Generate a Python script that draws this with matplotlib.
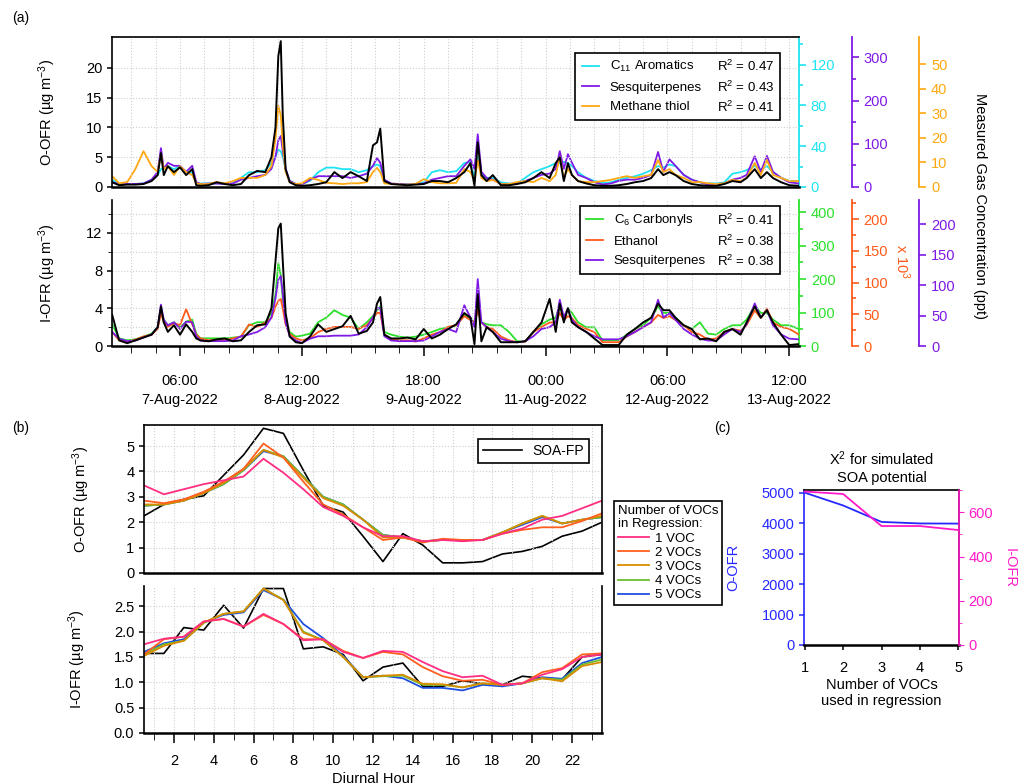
import numpy as np
import matplotlib
matplotlib.use('Agg')
from matplotlib import pyplot as plt
from matplotlib.lines import Line2D
from matplotlib.ticker import MultipleLocator, FixedLocator, FormatStrFormatter

plt.rcParams['font.family'] = ['Liberation Sans', 'DejaVu Sans']
plt.rcParams['mathtext.fontset'] = 'custom'
plt.rcParams['mathtext.rm'] = 'Liberation Sans'
plt.rcParams['mathtext.default'] = 'regular'
plt.rcParams['font.size'] = 10.5

#-------------------------------------------------------------------
# (a) time series, hours since 7-Aug-2022 00:00
hours = [-10.7, -9, -7, -5, -3, -1, 0.5, 1.3, 2, 3, 4.5, 6, 7.5, 9, 10, 11,
         13, 15, 17, 19, 21, 23, 25, 27, 28.5, 29.5, 30.2, 30.8, 31.3, 32, 33, 34.5,
         36, 38, 40, 42, 44, 46, 48, 50, 52, 53.5, 54.5, 55.3, 56.3,
         58, 60, 62, 64, 66, 68, 70, 72, 74, 76, 77.5, 78.5, 79.3, 80.2, 81.5, 83,
         85, 87, 89, 91, 93, 95, 97, 98.5, 99.5, 100.5, 101.5, 102.5,
         104, 106, 108, 110, 112, 114, 116, 118, 120, 122, 123.7, 125, 126.5, 128,
         130, 132, 134, 136, 138, 140, 142, 144, 145.5, 147.5, 149, 150.5,
         152, 154, 156, 158.4]

time_ticks = [6, 36, 66, 96, 126, 156]
time_labels = ['06:00\n7-Aug-2022', '12:00\n8-Aug-2022', '18:00\n9-Aug-2022',
               '00:00\n11-Aug-2022', '06:00\n12-Aug-2022', '12:00\n13-Aug-2022']

# O-OFR panel
soa_oofr = [0.8, 0.3, 0.4, 0.4, 0.5, 1, 2, 5.7, 2, 3.5, 2.5, 3.3, 2, 3, 0.3, 0.2,
            0.3, 0.8, 0.5, 0.3, 0.5, 2, 2.7, 2.5, 5, 10, 22, 24.5, 12, 3, 0.8, 0.3,
            0.2, 0.3, 0.5, 0.8, 2.5, 1.5, 2.5, 1.8, 1, 7, 7.5, 9.8, 1,
            0.5, 0.4, 0.3, 0.4, 0.5, 1, 1, 0.8, 1.5, 2.5, 4, 0.2, 7.5, 2, 1, 2,
            0.3, 0.3, 0.5, 0.8, 1.5, 2.5, 1.5, 4, 5, 1, 4, 2,
            1, 0.6, 0.3, 0.2, 0.2, 0.3, 0.5, 0.8, 1, 1.5, 3, 2, 2.5, 2,
            1, 0.5, 0.3, 0.2, 0.2, 0.5, 1, 0.8, 1.5, 3, 1.5, 2.5,
            1.5, 0.8, 0.3, 0.2]
c11_arom = [7, 3, 3, 3, 3.5, 7, 12, 17.5, 19, 20.5, 17.5, 20.5, 14.5, 14.5, 4.5, 3.5,
            3.5, 3.5, 3.5, 3.5, 9, 14.5, 14.5, 16.5, 23.5, 29.5, 36.5, 35, 29.5, 17.5, 6, 3,
            3, 6, 14.5, 19, 19, 17.5, 17.5, 14.5, 16.5, 20.5, 22, 20.5, 6,
            3, 3, 3, 3, 4.5, 14.5, 16.5, 14.5, 15.5, 23.5, 24.5, 9, 29.5, 12, 9, 9,
            4.5, 3.5, 3.5, 9, 14.5, 17.5, 20.5, 23.5, 23.5, 24.5, 23.5, 20.5,
            14.5, 9, 6, 4, 4.5, 7, 9, 10.5, 13, 16.5, 20.5, 19, 22, 20.5,
            12, 7, 4.5, 3.5, 3.5, 4.5, 13, 14.5, 16.5, 20.5, 17.5, 20.5,
            14.5, 9, 6, 6]
sesq_top = [11, 7, 7, 7, 8, 17, 35, 90, 42, 56, 49, 49, 35, 49, 11, 7,
            8, 8, 7, 8, 17, 21, 25, 28, 42, 70, 108, 118, 83, 42, 14, 7,
            6, 17, 25, 25, 25, 25, 21, 25, 31, 49, 67, 56, 17,
            8, 7, 6, 7, 8, 17, 21, 25, 25, 49, 64, 42, 122, 35, 21, 17,
            7, 7, 8, 14, 21, 28, 31, 42, 83, 42, 76, 56,
            28, 21, 11, 6, 8, 14, 17, 17, 21, 28, 81, 35, 64, 49,
            28, 17, 11, 6, 7, 8, 17, 21, 28, 71, 35, 72,
            35, 21, 11, 8]
methanethiol = [4.4, 1.5, 2.0, 7.3, 14.6, 8.5, 6.1, 13.4, 7.3, 8.5, 4.9, 8.5, 6.1, 4.9, 1.5, 1.2,
                1.2, 2.0, 1.5, 2.4, 3.7, 3.7, 3.7, 4.9, 8.5, 19.5, 33, 29.3, 17.1, 6.1, 2.0, 1.2,
                1.5, 3.7, 2.9, 1.7, 1.5, 1.2, 1.5, 1.5, 2.0, 6.1, 7.8, 6.1, 1.5,
                1.2, 1.0, 1.0, 1.2, 3.2, 2.0, 1.5, 1.5, 1.7, 7.3, 6.1, 2.4, 11, 3.7, 2.4, 2.9,
                1.2, 1.2, 2.0, 2.4, 2.0, 3.7, 2.4, 4.9, 12.2, 3.7, 7.3, 4.9,
                2.4, 2.0, 2.0, 2.4, 2.9, 3.7, 4.4, 3.7, 4.4, 4.9, 11, 6.1, 7.3, 4.9,
                3.7, 2.0, 2.0, 1.5, 1.2, 1.5, 2.9, 2.4, 3.7, 9.8, 4.9, 11,
                4.9, 3.7, 2.4, 2.4]

# I-OFR panel (ethanol in ppt x 10^3)
soa_iofr = [3.3, 0.6, 0.3, 0.6, 0.9, 1.2, 2, 4.2, 2.5, 1.5, 2.2, 1.2, 2.3, 1.5, 0.8, 0.6,
            0.5, 0.7, 0.8, 0.5, 0.6, 1.5, 2.2, 2.3, 4, 9, 12.5, 13, 9, 3.5, 1, 0.4,
            0.3, 1, 2.3, 1.5, 1.8, 2.1, 3.2, 1.3, 1.6, 2.5, 4.5, 5.2, 1.2,
            0.8, 0.8, 0.9, 0.7, 1.8, 0.8, 1.2, 1.8, 2.3, 3.5, 3, 0.2, 5.5, 0.5, 2, 1.5,
            0.4, 0.4, 0.4, 0.5, 1.5, 2.5, 5, 1.5, 4.5, 2.5, 4, 2.5,
            2, 1.5, 0.8, 0.1, 0.1, 0.1, 1.2, 1.8, 2.5, 3, 4.5, 3.8, 3.8, 3,
            2.2, 1.8, 0.7, 0.8, 0.5, 1.5, 1.8, 1.2, 2.5, 4.2, 3, 3.8,
            2.5, 1.2, 0.1, 0.2]
c6_carbonyls = [65, 23, 17, 20, 28, 37, 56, 107, 79, 62, 71, 56, 73, 79, 37, 23,
                23, 23, 23, 25, 28, 62, 71, 71, 99, 155, 248, 212, 141, 71, 42, 28,
                31, 37, 71, 85, 107, 93, 85, 51, 71, 90, 107, 118, 42,
                34, 28, 25, 28, 34, 42, 51, 56, 62, 93, 85, 71, 113, 71, 65, 62,
                62, 42, 14, 14, 42, 65, 79, 85, 121, 85, 113, 99,
                71, 56, 56, 17, 17, 17, 34, 51, 62, 85, 118, 99, 99, 85,
                62, 51, 71, 37, 34, 51, 62, 62, 79, 121, 99, 99,
                79, 62, 62, 51]
ethanol = [22, 9, 7, 10, 15, 18, 27, 52, 37, 30, 36, 33, 58, 34, 18, 12,
           9, 10, 9, 12, 15, 34, 30, 37, 44, 62, 71, 74, 59, 34, 19, 12,
           9, 12, 22, 27, 30, 30, 30, 27, 33, 44, 52, 52, 18,
           10, 9, 9, 7, 12, 18, 22, 30, 33, 47, 41, 37, 56, 37, 30, 27,
           15, 9, 6, 7, 22, 30, 37, 37, 52, 41, 47, 44,
           33, 27, 22, 6, 6, 6, 15, 22, 30, 37, 49, 44, 47, 41,
           33, 22, 18, 10, 12, 22, 27, 24, 33, 56, 44, 59,
           37, 30, 27, 18]
sesq_low = [23, 12, 8, 9, 14, 19, 31, 68, 43, 34, 39, 28, 40, 39, 16, 9,
            8, 8, 8, 9, 16, 19, 23, 31, 47, 78, 109, 115, 85, 39, 16, 9,
            5, 12, 16, 16, 17, 17, 17, 19, 31, 47, 62, 62, 16,
            9, 8, 8, 8, 9, 16, 23, 28, 23, 67, 47, 31, 110, 39, 31, 23,
            12, 8, 6, 8, 16, 28, 31, 39, 76, 47, 62, 43,
            31, 23, 16, 11, 11, 11, 16, 23, 31, 39, 76, 47, 54, 43,
            28, 19, 12, 9, 9, 19, 28, 23, 36, 70, 47, 59,
            34, 19, 12, 11]

#-------------------------------------------------------------------
# (b) diurnal profiles
diurnal_hour = np.arange(0.5, 24, 1.0)
n_voc_labels = ['1 VOC', '2 VOCs', '3 VOCs', '4 VOCs', '5 VOCs']

oofr_soa = [2.25, 2.7, 2.9, 3.04, 3.85, 4.65, 5.7, 5.5, 4.05, 2.65, 2.4, 1.45,
            0.45, 1.55, 1.1, 0.4, 0.4, 0.45, 0.75, 0.85, 1.05, 1.45, 1.65, 2.0]
oofr_voc = [
    [3.45, 3.1, 3.3, 3.5, 3.65, 3.8, 4.5, 3.95, 3.3, 2.6, 2.25, 1.8,
     1.45, 1.45, 1.25, 1.3, 1.25, 1.3, 1.55, 1.75, 2.1, 2.25, 2.55, 2.85],
    [2.85, 2.75, 2.9, 3.2, 3.6, 4.1, 5.1, 4.55, 3.6, 2.7, 2.3, 1.8,
     1.3, 1.4, 1.2, 1.35, 1.3, 1.3, 1.55, 1.7, 1.8, 1.8, 2.05, 2.35],
    [2.7, 2.7, 2.85, 3.15, 3.55, 4.1, 4.85, 4.55, 3.75, 2.95, 2.65, 2.1,
     1.4, 1.4, 1.25, 1.3, 1.3, 1.3, 1.6, 1.95, 2.25, 1.95, 2.1, 2.25],
    [2.65, 2.7, 2.85, 3.15, 3.5, 4.05, 4.85, 4.6, 3.8, 3.0, 2.7, 2.1,
     1.5, 1.4, 1.25, 1.3, 1.3, 1.3, 1.6, 1.95, 2.25, 1.95, 2.1, 2.2],
    [2.65, 2.7, 2.85, 3.15, 3.5, 4.05, 4.8, 4.6, 3.8, 3.0, 2.7, 2.1,
     1.5, 1.4, 1.25, 1.3, 1.3, 1.3, 1.6, 1.9, 2.2, 1.95, 2.1, 2.2],
]
iofr_soa = [1.57, 1.57, 2.08, 2.03, 2.52, 2.07, 2.85, 2.85, 1.66, 1.7, 1.55, 1.03,
            1.3, 1.38, 0.92, 0.92, 1.03, 0.97, 0.95, 1.12, 1.08, 1.06, 1.5, 1.55]
iofr_voc = [
    [1.75, 1.86, 1.9, 2.2, 2.25, 2.1, 2.35, 2.15, 1.83, 1.85, 1.6, 1.48,
     1.62, 1.6, 1.4, 1.22, 1.1, 1.13, 0.95, 0.98, 1.15, 1.26, 1.5, 1.55],
    [1.55, 1.85, 1.9, 2.2, 2.25, 2.1, 2.33, 2.15, 1.85, 1.85, 1.62, 1.48,
     1.6, 1.55, 1.3, 1.12, 1.03, 1.05, 0.95, 0.98, 1.2, 1.28, 1.55, 1.57],
    [1.52, 1.72, 1.82, 2.18, 2.35, 2.4, 2.85, 2.62, 1.98, 1.83, 1.5, 1.1,
     1.13, 1.15, 0.97, 0.96, 0.9, 0.98, 0.95, 0.98, 1.08, 1.02, 1.32, 1.4],
    [1.55, 1.75, 1.82, 2.17, 2.35, 2.4, 2.85, 2.63, 2.0, 1.83, 1.5, 1.1,
     1.12, 1.13, 0.95, 0.95, 0.9, 0.98, 0.95, 0.98, 1.08, 1.05, 1.35, 1.45],
    [1.6, 1.77, 1.85, 2.18, 2.33, 2.38, 2.82, 2.63, 2.15, 1.87, 1.52, 1.1,
     1.13, 1.08, 0.89, 0.89, 0.84, 0.95, 0.92, 0.98, 1.1, 1.07, 1.38, 1.5],
]

#-------------------------------------------------------------------
# (c) chi-square vs number of VOCs
n_vocs = [1, 2, 3, 4, 5]
chi2_oofr = [5000, 4580, 4040, 3990, 3985]
chi2_iofr = [694, 683, 538, 538, 520]

#-------------------------------------------------------------------
CYAN = '#1EE3F0'
VIOLET = '#7F1AE6'
ORANGE = '#FFA811'
GREEN = '#2BE02B'
RED_OR = '#FF5A1A'
voc_colors = ['#FF2E82', '#FF5F1F', '#D98B00', '#6DBE2F', '#1F4FE0']
BLUE_C = '#2626FF'
MAG_C = '#FF1AC8'
GRID = dict(color='#cfcfcf', linestyle=':', linewidth=0.8)

fig = plt.figure(figsize=(10.22, 7.84), dpi=100)
W, H = 1022.0, 784.0


def px_axes(x0, y0, x1, y1):
    return fig.add_axes([x0 / W, 1 - y1 / H, (x1 - x0) / W, (y1 - y0) / H])


def right_axis(host, color, pos, ylim, ticks, minor=None):
    ax = host.twinx()
    for s in ['left', 'top', 'bottom']:
        ax.spines[s].set_visible(False)
    ax.spines['right'].set_position(('axes', pos))
    ax.spines['right'].set_color(color)
    ax.spines['right'].set_linewidth(1.3)
    ax.set_ylim(ylim)
    ax.yaxis.set_major_locator(FixedLocator(ticks))
    if minor:
        ax.yaxis.set_minor_locator(MultipleLocator(minor))
    ax.tick_params(axis='y', which='both', colors=color, labelcolor=color,
                   direction='out', width=1.2)
    ax.tick_params(axis='y', which='major', length=5)
    ax.tick_params(axis='y', which='minor', length=3)
    return ax


def r2_legend(ax, handles, names, r2, anchor):
    # second (empty) column gets pushed to the right edge in expand mode
    blanks = [Line2D([], [], color='none') for _ in names]
    leg = ax.legend(handles + blanks, names + [''] * len(names), ncol=2,
                    loc='upper left', bbox_to_anchor=anchor, mode='expand',
                    fancybox=False, edgecolor='black', framealpha=1, fontsize=9.5,
                    handlelength=1.3, handletextpad=0.8, borderpad=0.5,
                    labelspacing=0.55, columnspacing=0.5)
    leg.get_frame().set_linewidth(1.2)
    leg.set_zorder(10)
    for txt, v in zip(leg.get_texts()[:len(names)], r2):
        ax.annotate('R$^{2}$ = %.2f' % v, xy=(0.972, 0.5), xycoords=(leg.get_frame(), txt),
                    ha='right', va='center', fontsize=9.5, zorder=11)
    return leg


def style_host(ax):
    ax.tick_params(direction='out', width=1.1)
    ax.spines['bottom'].set_linewidth(1.8)
    ax.spines['left'].set_linewidth(1.2)
    ax.spines['top'].set_linewidth(1.2)
    ax.spines['right'].set_linewidth(1.2)


# ---------------- (a) upper: O-OFR
ax1 = px_axes(112, 37, 799, 187)
style_host(ax1)
ax1.spines['right'].set_visible(False)
ax1.set_xlim(-10.75, 158.4)
ax1.set_ylim(0, 25.2)
ax1.yaxis.set_major_locator(FixedLocator([0, 5, 10, 15, 20]))
ax1.xaxis.set_major_locator(FixedLocator(time_ticks))
ax1.xaxis.set_minor_locator(MultipleLocator(6))
ax1.tick_params(axis='x', which='both', length=0, labelbottom=False)
ax1.grid(which='both', axis='x', **GRID)
ax1.grid(which='major', axis='y', **GRID)
ax1.set_ylabel('O-OFR (µg m$^{-3}$)', fontsize=10.5)
ax1.yaxis.set_label_coords(-0.078, 0.5)

ax1c = right_axis(ax1, CYAN, 1.0, (0, 147), [0, 40, 80, 120], 20)
ax1p = right_axis(ax1, VIOLET, 1.077, (0, 347), [0, 100, 200, 300], 50)
ax1o = right_axis(ax1, ORANGE, 1.175, (0, 61.1), [0, 10, 20, 30, 40, 50])
l_c, = ax1c.plot(hours, c11_arom, color=CYAN, lw=1.3)
l_p, = ax1p.plot(hours, sesq_top, color=VIOLET, lw=1.3)
l_o, = ax1o.plot(hours, methanethiol, color=ORANGE, lw=1.3)
ax1.set_zorder(ax1o.get_zorder() + 1)
ax1.patch.set_visible(False)
l_k, = ax1.plot(hours, soa_oofr, color='black', lw=1.4)
leg = ax1.legend([l_k], ['SOA-FP'], loc='upper left', bbox_to_anchor=(0.014, 0.93),
                 fancybox=False, edgecolor='black', framealpha=1, fontsize=10,
                 handlelength=2.0, borderpad=0.35)
leg.get_frame().set_linewidth(1.2)
r2_legend(ax1, [l_c, l_p, l_o], ['C$_{11}$ Aromatics', 'Sesquiterpenes', 'Methane thiol'],
          [0.47, 0.43, 0.41], (0.665, 0.45, 0.3175, 0.49))

# ---------------- (a) lower: I-OFR
ax2 = px_axes(112, 200, 799, 346)
style_host(ax2)
ax2.spines['right'].set_visible(False)
ax2.spines['top'].set_visible(False)
ax2.set_xlim(-10.75, 158.4)
ax2.set_ylim(0, 15.5)
ax2.yaxis.set_major_locator(MultipleLocator(4))
ax2.yaxis.set_minor_locator(MultipleLocator(2))
ax2.xaxis.set_major_locator(FixedLocator(time_ticks))
ax2.xaxis.set_minor_locator(MultipleLocator(6))
ax2.set_xticklabels(time_labels, linespacing=1.45)
ax2.tick_params(axis='x', which='major', length=7, pad=13)
ax2.tick_params(axis='x', which='minor', length=5)
ax2.tick_params(axis='y', which='minor', length=3)
ax2.grid(which='both', axis='both', **GRID)
ax2.set_ylabel('I-OFR (µg m$^{-3}$)', fontsize=10.5)
ax2.yaxis.set_label_coords(-0.078, 0.5)

ax2g = right_axis(ax2, GREEN, 1.0, (0, 437), [0, 100, 200, 300, 400], 50)
ax2e = right_axis(ax2, RED_OR, 1.077, (0, 230), [0, 50, 100, 150, 200], 25)
ax2s = right_axis(ax2, VIOLET, 1.175, (0, 240), [0, 50, 100, 150, 200])
l_g, = ax2g.plot(hours, c6_carbonyls, color=GREEN, lw=1.3)
l_e, = ax2e.plot(hours, ethanol, color=RED_OR, lw=1.3)
l_s, = ax2s.plot(hours, sesq_low, color=VIOLET, lw=1.3)
ax2.set_zorder(ax2s.get_zorder() + 1)
ax2.patch.set_visible(False)
ax2.plot(hours, soa_iofr, color='black', lw=1.4)
r2_legend(ax2, [l_g, l_e, l_s], ['C$_{6}$ Carbonyls', 'Ethanol', 'Sesquiterpenes'],
          [0.41, 0.38, 0.38], (0.671, 0.5, 0.3115, 0.507))

fig.text(980 / W, 1 - 206 / H, 'Measured Gas Concentration (ppt)', rotation=-90,
         ha='center', va='center', fontsize=10.5)
fig.text(902 / W, 1 - 262 / H, 'x 10$^{3}$', rotation=-90, ha='center', va='center',
         fontsize=10.5, color=RED_OR)

# ---------------- (b) diurnal
axb1 = px_axes(144, 425, 602, 573)
axb2 = px_axes(144, 586, 602, 733)
for ax in (axb1, axb2):
    style_host(ax)
    ax.set_xlim(0.5, 23.5)
    ax.xaxis.set_major_locator(MultipleLocator(2))
    ax.xaxis.set_minor_locator(MultipleLocator(1))
    ax.grid(which='both', axis='x', **GRID)
    ax.grid(which='major', axis='y', **GRID)
    ax.tick_params(axis='x', which='major', length=7, pad=8)
    ax.tick_params(axis='x', which='minor', length=5)
axb1.tick_params(axis='x', which='both', length=0, labelbottom=False)
axb2.spines['top'].set_visible(False)
axb2.xaxis.set_major_locator(FixedLocator(range(2, 24, 2)))

axb1.set_ylim(0, 5.83)
axb1.yaxis.set_major_locator(MultipleLocator(1))
axb2.set_ylim(0, 2.9)
axb2.yaxis.set_major_locator(MultipleLocator(0.5))
axb2.yaxis.set_major_formatter(FormatStrFormatter('%.1f'))

voc_handles = []
for i in range(4, -1, -1):
    axb1.plot(diurnal_hour, oofr_voc[i], color=voc_colors[i], lw=1.3)
    h, = axb2.plot(diurnal_hour, iofr_voc[i], color=voc_colors[i], lw=1.3)
    voc_handles.insert(0, h)
k1, = axb1.plot(diurnal_hour, oofr_soa, color='black', lw=1.2, zorder=1.5)
axb2.plot(diurnal_hour, iofr_soa, color='black', lw=1.2, zorder=1.5)

leg = axb1.legend([k1], ['SOA-FP'], loc='upper right', bbox_to_anchor=(0.987, 0.95),
                  fancybox=False, edgecolor='black', framealpha=1, fontsize=10,
                  handlelength=2.8, borderpad=0.35)
leg.get_frame().set_linewidth(1.2)
leg = fig.legend(voc_handles, n_voc_labels, title='Number of VOCs\nin Regression:',
                 loc='upper left', bbox_to_anchor=(607 / W, 1 - 494 / H),
                 fancybox=False, edgecolor='black', framealpha=1, fontsize=9.5,
                 title_fontsize=9.5, alignment='left', handlelength=2.4,
                 labelspacing=0.15, borderpad=0.3, handletextpad=0.4)
leg.get_frame().set_linewidth(1.2)

axb1.set_ylabel('O-OFR (µg m$^{-3}$)', fontsize=10.5)
axb1.yaxis.set_label_coords(-0.113, 0.5)
axb2.set_ylabel('I-OFR (µg m$^{-3}$)', fontsize=10.5)
axb2.yaxis.set_label_coords(-0.122, 0.5)
axb2.set_xlabel('Diurnal Hour', fontsize=10.5, labelpad=3)

# ---------------- (c) chi-square
axc = px_axes(804, 490, 959, 645)
style_host(axc)
axc.set_xlim(0.98, 5.02)
axc.set_ylim(0, 5088)
axc.xaxis.set_major_locator(MultipleLocator(1))
axc.yaxis.set_major_locator(MultipleLocator(1000))
axc.tick_params(axis='x', pad=8)
axc.spines['left'].set_color(BLUE_C)
axc.tick_params(axis='y', colors=BLUE_C, labelcolor=BLUE_C)
axc.plot(n_vocs, chi2_oofr, color=BLUE_C, lw=1.3)
axc2 = axc.twinx()
for s in ['left', 'top', 'bottom']:
    axc2.spines[s].set_visible(False)
axc2.spines['right'].set_color(MAG_C)
axc2.spines['right'].set_linewidth(1.2)
axc2.set_ylim(0, 701)
axc2.yaxis.set_major_locator(MultipleLocator(200))
axc2.yaxis.set_minor_locator(MultipleLocator(100))
axc2.tick_params(axis='y', which='both', colors=MAG_C, labelcolor=MAG_C, direction='out')
axc2.plot(n_vocs, chi2_iofr, color=MAG_C, lw=1.3)
axc.set_title('X$^{2}$ for simulated\nSOA potential', fontsize=10.5, pad=6)
axc.set_xlabel('Number of VOCs\nused in regression', fontsize=10.5, labelpad=2)
axc.set_ylabel('O-OFR', color=BLUE_C, fontsize=10.5)
axc.yaxis.set_label_coords(-0.41, 0.5)
axc2.set_ylabel('I-OFR', color=MAG_C, fontsize=10.5, rotation=-90)
axc2.yaxis.set_label_coords(1.37, 0.5)

# panel letters
fig.text(12 / W, 1 - 18 / H, '(a)', ha='left', va='center', fontsize=10)
fig.text(12 / W, 1 - 428 / H, '(b)', ha='left', va='center', fontsize=10)
fig.text(714 / W, 1 - 428 / H, '(c)', ha='left', va='center', fontsize=10)

plt.savefig('out.png', dpi=100)
